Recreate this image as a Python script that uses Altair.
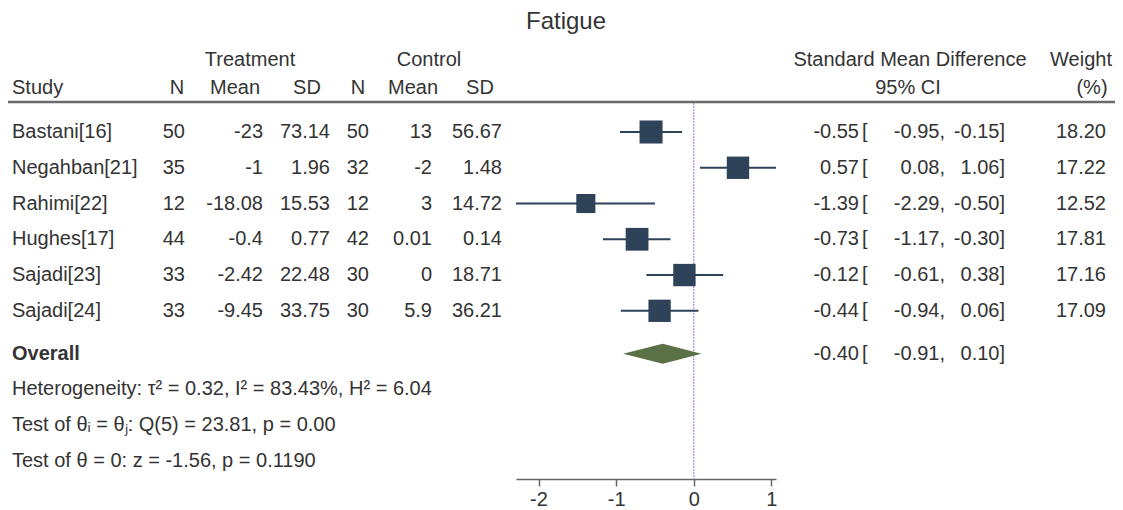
import altair as alt
import pandas as pd

# ---- study-level data -------------------------------------------------------
studies = ["Bastani[16]", "Negahban[21]", "Rahimi[22]", "Hughes[17]", "Sajadi[23]", "Sajadi[24]"]
t_n = [50, 35, 12, 44, 33, 33]
t_mean = [-23, -1, -18.08, -0.4, -2.42, -9.45]
t_sd = [73.14, 1.96, 15.53, 0.77, 22.48, 33.75]
c_n = [50, 32, 12, 42, 30, 30]
c_mean = [13, -2, 3, 0.01, 0, 5.9]
c_sd = [56.67, 1.48, 14.72, 0.14, 18.71, 36.21]
smd = [-0.55, 0.57, -1.39, -0.73, -0.12, -0.44]
ci_low = [-0.95, 0.08, -2.29, -1.17, -0.61, -0.94]
ci_high = [-0.15, 1.06, -0.50, -0.30, 0.38, 0.06]
weight = [18.20, 17.22, 12.52, 17.81, 17.16, 17.09]

# ---- pooled estimate ----------------------------------------------------------
overall_smd = -0.40
overall_low = -0.91
overall_high = 0.10

stat_lines = [
    "Heterogeneity: \u03c4\u00b2 = 0.32, I\u00b2 = 83.43%, H\u00b2 = 6.04",
    "Test of \u03b8\u1d62 = \u03b8\u2c7c: Q(5) = 23.81, p = 0.00",
    "Test of \u03b8 = 0: z = -1.56, p = 0.1190",
]
axis_ticks = [-2, -1, 0, 1]

# ---- styling / layout ---------------------------------------------------------
FONT = "Liberation Sans"
TXT = "#333333"
FS = 20
BOX = "#2e4259"
DIAMOND = "#5a7045"
REF = "#b393dc"

OVERALL_ROW = 6.2
STAT_ROWS = [7.2, 8.2, 9.2]
DIAMOND_HALF = 0.28  # half height of the pooled diamond, in row units


def g(v):
    return f"{v:g}"


df = pd.DataFrame({
    "study": studies,
    "row": list(range(len(studies))),
    "t_n": [g(v) for v in t_n],
    "t_mean": [g(v) for v in t_mean],
    "t_sd": [g(v) for v in t_sd],
    "c_n": [g(v) for v in c_n],
    "c_mean": [g(v) for v in c_mean],
    "c_sd": [g(v) for v in c_sd],
    "smd": smd,
    "lo": ci_low,
    "hi": ci_high,
    "weight": weight,
})
df["est_txt"] = [f"{v:.2f}" for v in smd]
df["lo_txt"] = [f"{v:.2f}," for v in ci_low]
df["hi_txt"] = [f"{v:.2f}]" for v in ci_high]
df["w_txt"] = [f"{v:.2f}" for v in weight]

ov = pd.DataFrame({
    "row": [OVERALL_ROW],
    "label": ["Overall"],
    "est_txt": [f"{overall_smd:.2f}"],
    "lo_txt": [f"{overall_low:.2f},"],
    "hi_txt": [f"{overall_high:.2f}]"],
})

diamond_df = pd.DataFrame({
    "x": [overall_low, overall_smd, overall_high],
    "y": [OVERALL_ROW, OVERALL_ROW - DIAMOND_HALF, OVERALL_ROW],
    "y2": [OVERALL_ROW, OVERALL_ROW + DIAMOND_HALF, OVERALL_ROW],
})

stats_df = pd.DataFrame({"row": STAT_ROWS, "txt": stat_lines})

# ---- scales -------------------------------------------------------------------
x_scale = alt.Scale(domain=[min(ci_low), max(ci_high)], range=[516, 776], nice=False, zero=False)
y_scale = alt.Scale(domain=[0, STAT_ROWS[-1]], range=[132, 461], nice=False, zero=False)
x_axis = alt.Axis(
    values=axis_ticks, title=None, grid=False, labelExpr="'' + datum.value",
    labelFont=FONT, labelFontSize=FS, labelColor=TXT, labelPadding=3,
    tickColor="#666666", tickSize=7, tickWidth=1.5,
    domainColor="#666666", domainWidth=1.5,
)
Y = alt.Y("row:Q", scale=y_scale, axis=None)

# right-hand column anchors (pixels)
EST_X, BRACKET_X, LO_X, HI_X, W_X = 859, 862, 945, 1005, 1106


def col_text(data, field, x, align, bold=False):
    return alt.Chart(data).mark_text(
        align=align, baseline="middle", font=FONT, fontSize=FS, color=TXT,
        fontWeight="bold" if bold else "normal",
    ).encode(x=alt.value(x), y=Y, text=f"{field}:N")


def bracket(data):
    return alt.Chart(data).mark_text(
        text="[", align="left", baseline="middle", font=FONT, fontSize=FS, color=TXT,
    ).encode(x=alt.value(BRACKET_X), y=Y)


def label(text, x, y, align="center", size=FS):
    return alt.Chart(alt.Data(values=[{}])).mark_text(
        text=text, align=align, baseline="middle", font=FONT, fontSize=size, color=TXT,
    ).encode(x=alt.value(x), y=alt.value(y))


# ---- forest plot marks ----------------------------------------------------------
ref_line = alt.Chart(alt.Data(values=[{}])).mark_rule(
    color=REF, strokeWidth=1.3, strokeDash=[2, 1]
).encode(x=alt.X(datum=0, type="quantitative", scale=x_scale, axis=x_axis),
         y=alt.value(103), y2=alt.value(479))

ci = alt.Chart(df).mark_rule(color=BOX, strokeWidth=2).encode(
    x=alt.X("lo:Q", scale=x_scale, axis=x_axis), x2="hi:Q", y=Y)

boxes = alt.Chart(df).mark_square(color=BOX, opacity=1, filled=True).encode(
    x=alt.X("smd:Q", scale=x_scale, axis=x_axis), y=Y,
    size=alt.Size("weight:Q", scale=alt.Scale(domain=[0, max(weight)], range=[0, 530]), legend=None))

diamond = alt.Chart(diamond_df).mark_area(color=DIAMOND, opacity=1).encode(
    x=alt.X("x:Q", scale=x_scale, axis=x_axis),
    y=alt.Y("y:Q", scale=y_scale, axis=None), y2="y2:Q")

header_rule = alt.Chart(alt.Data(values=[{}])).mark_rule(color="#6a6a6a", strokeWidth=2.5).encode(
    x=alt.value(8), x2=alt.value(1115), y=alt.value(102))

# ---- table columns ----------------------------------------------------------------
table = [
    col_text(df, "study", 12, "left"),
    col_text(df, "t_n", 185, "right"),
    col_text(df, "t_mean", 263, "right"),
    col_text(df, "t_sd", 330, "right"),
    col_text(df, "c_n", 369, "right"),
    col_text(df, "c_mean", 432, "right"),
    col_text(df, "c_sd", 502, "right"),
    col_text(df, "est_txt", EST_X, "right"),
    bracket(df),
    col_text(df, "lo_txt", LO_X, "right"),
    col_text(df, "hi_txt", HI_X, "right"),
    col_text(df, "w_txt", W_X, "right"),
    col_text(ov, "label", 12, "left", bold=True),
    col_text(ov, "est_txt", EST_X, "right"),
    bracket(ov),
    col_text(ov, "lo_txt", LO_X, "right"),
    col_text(ov, "hi_txt", HI_X, "right"),
    col_text(stats_df, "txt", 12, "left"),
]

headers = [
    label("Fatigue", 566, 22, size=24),
    label("Treatment", 250, 60),
    label("Control", 429, 60),
    label("Standard Mean Difference", 910, 60),
    label("Weight", 1081, 60),
    label("Study", 12, 88, align="left"),
    label("N", 177, 88),
    label("Mean", 235, 88),
    label("SD", 307, 88),
    label("N", 358, 88),
    label("Mean", 413, 88),
    label("SD", 480, 88),
    label("95% CI", 908, 88),
    label("(%)", 1092, 88),
]

chart = alt.layer(
    ref_line, ci, boxes, diamond, header_rule, *table, *headers
).properties(
    width=1123, height=479,
    autosize=alt.AutoSizeParams(type="none"),
    padding={"left": 0, "top": 0, "right": 0, "bottom": 31},
    background="white",
).configure_view(stroke=None)

chart.save("out.html", embed_options={"renderer": "svg", "actions": False})
